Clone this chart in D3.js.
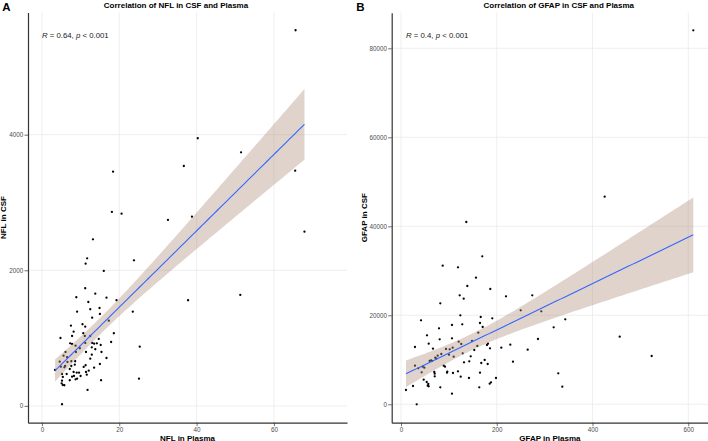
<!DOCTYPE html>
<html>
<head>
<meta charset="utf-8">
<script src="https://cdn.jsdelivr.net/npm/d3@7"></script>
<style>
  html, body { margin: 0; padding: 0; background: #fff; }
  svg { display: block; font-family: "Liberation Sans", Arial, sans-serif; }
</style>
</head>
<body>
<svg id="chart" width="708" height="441"></svg>
<script>
// ---- Panel A: NFL (plasma vs CSF) ----
const nflPlasma = [13.2,11.7,11.3,23.8,16.0,11.2,13.8,8.9,16.7,19.3,12.0,14.9,12.5,9.1,23.5,15.0,13.0,17.3,7.5,10.5,
  11.2,8.2,10.7,18.6,11.1,12.5,7.8,4.8,14.7,7.3,7.8,11.2,13.0,13.5,14.2,17.9,8.7,9.8,12.9,15.2,
  25.3,13.8,6.1,8.8,11.4,15.4,5.6,12.9,12.5,16.7,6.5,4.6,6.6,7.6,8.6,8.5,7.6,15.0,4.9,5.8,
  6.0,10.8,11.3,7.2,13.5,12.1,11.4,8.2,9.0,9.6,5.2,6.4,11.6,10.0,7.8,8.3,5.4,9.1,8.7,7.2,
  5.2,15.3,5.1,5.4,5.8,11.8,5.2,3.4,18.4,18.1,65.6,40.3,51.5,36.7,65.5,20.6,32.6,38.8,67.9,37.8,
  51.3,25.1];
const nflCSF = [2457,2177,2097,2147,1990,1735,1655,1602,1596,1558,1532,1444,1425,1389,1389,1355,1301,1257,1183,1204,
  1168,1094,1071,1071,1031,1031,1031,1001,987,923,913,928,928,917,923,942,888,850,864,898,
  873,835,795,795,795,795,740,755,696,706,717,652,647,658,658,608,588,618,578,569,
  588,574,599,544,563,519,500,500,490,490,470,470,460,441,431,441,426,401,392,378,
  372,378,333,308,304,235,24,529,3454,2860,5540,3947,3740,3538,3469,2835,2742,2791,2569,1558,
  1636,401];

// ---- Panel B: GFAP (plasma vs CSF) ----
const gfapPlasma = [136.4,169.8,87.1,119.0,156.6,138.5,186.5,122.6,131.0,219.3,274.2,82.1,250.0,293.0,123.9,166.5,190.7,41.8,106.5,128.0,
  165.0,170.6,79.4,54.3,161.4,106.5,80.8,148.3,120.5,286.1,318.9,57.9,29.2,125.9,181.7,179.6,66.8,108.0,94.0,101.7,
  159.4,185.9,209.5,228.3,264.6,153.1,128.9,84.2,76.7,100.3,110.1,145.6,71.6,62.7,59.9,64.7,73.7,174.8,142.6,131.6,
  233.9,167.7,181.1,29.2,45.3,48.7,36.1,89.2,91.9,43.2,69.5,70.4,70.4,96.1,96.7,108.6,119.0,124.7,142.0,165.0,
  198.4,328.5,47.4,53.7,57.0,55.8,57.9,82.1,106.5,163.5,188.0,185.3,25.1,10.4,32.8,610.5,425.4,343.1,456.8,523.6,
  336.9];
const gfapCSF = [40966,33258,31146,30787,28449,26584,25910,24494,23730,24270,24494,22697,21124,20899,20000,19618,19326,18876,17820,17978,
  18270,17371,17079,15506,16090,14831,14607,14225,14067,14674,17303,13618,12876,13551,13618,13326,12494,12719,12427,12360,
  13101,12584,12719,13393,12270,12202,11461,11303,10921,11146,10697,10787,10472,9888,9730,9730,10247,9955,9663,9438,
  9573,9281,9056,8674,8449,8225,8090,8674,8449,7191,7258,6876,6292,7101,7326,7034,7416,6202,5910,7101,
  5910,6966,5528,5011,4562,4180,4045,3820,2382,3820,4944,4629,4112,3213,0,84045,46652,19101,15191,10854,
  3955];

// ---- Tick labels ----
const nflXTicks = [0, 20, 40, 60];
const nflYTicks = [0, 2000, 4000];
const gfapXTicks = [0, 200, 400, 600];
const gfapYTicks = [0, 20000, 40000, 60000, 80000];

// ---- Texts ----
const panelLetters = ["A", "B"];
const panelTitles = ["Correlation of NFL in CSF and Plasma", "Correlation of GFAP in CSF and Plasma"];
const xTitles = ["NFL in Plasma", "GFAP in Plasma"];
const yTitles = ["NFL in CSF", "GFAP in CSF"];
const corrR = ["0.64", "0.4"];
const corrP = ["0.001", "0.001"];

const svg = d3.select("#chart");

function linearFit(xs, ys) {
  const n = xs.length;
  const mx = d3.mean(xs), my = d3.mean(ys);
  let sxx = 0, sxy = 0;
  for (let i = 0; i < n; i++) { sxx += (xs[i]-mx)**2; sxy += (xs[i]-mx)*(ys[i]-my); }
  const b = sxy / sxx, a = my - b*mx;
  let sse = 0;
  for (let i = 0; i < n; i++) sse += (ys[i] - a - b*xs[i])**2;
  const s = Math.sqrt(sse / (n-2));
  const t = 1.984;
  const [x0, x1] = d3.extent(xs);
  const pts = d3.range(0, 81).map(k => {
    const x = x0 + (x1-x0)*k/80;
    const yhat = a + b*x;
    const se = s * Math.sqrt(1/n + (x-mx)**2/sxx);
    return {x, y: yhat, lo: yhat - t*se, hi: yhat + t*se};
  });
  return pts;
}

function drawPanel(cfg) {
  const g = svg.append("g");
  const x = d3.scaleLinear().domain(cfg.xDomain).range([cfg.left, cfg.right]);
  const y = d3.scaleLinear().domain(cfg.yDomain).range([cfg.bottom, cfg.top]);

  // grid
  g.append("g").selectAll("line.vx").data(cfg.xTicks).join("line")
    .attr("x1", d => x(d)).attr("x2", d => x(d))
    .attr("y1", cfg.top).attr("y2", cfg.bottom)
    .attr("stroke", "#ebebeb").attr("stroke-width", 0.8);
  g.append("g").selectAll("line.hy").data(cfg.yTicks).join("line")
    .attr("x1", cfg.left).attr("x2", cfg.right)
    .attr("y1", d => y(d)).attr("y2", d => y(d))
    .attr("stroke", "#ebebeb").attr("stroke-width", 0.8);

  // points
  g.append("g").selectAll("circle").data(cfg.xs.map((v, i) => [v, cfg.ys[i]])).join("circle")
    .attr("cx", d => x(d[0])).attr("cy", d => y(d[1])).attr("r", 1.15).attr("fill", "#000");

  // regression with CI
  const fit = linearFit(cfg.xs, cfg.ys);
  g.append("path").datum(fit)
    .attr("d", d3.area().x(d => x(d.x)).y0(d => y(d.lo)).y1(d => y(d.hi)))
    .attr("fill", "rgb(178,146,128)").attr("fill-opacity", 0.4);
  g.append("path").datum(fit)
    .attr("d", d3.line().x(d => x(d.x)).y(d => y(d.y)))
    .attr("fill", "none").attr("stroke", "#3366FF").attr("stroke-width", 1.1);

  // axes
  const ax = g.append("g").attr("transform", `translate(0,${cfg.bottom})`)
    .call(d3.axisBottom(x).tickValues(cfg.xTicks).tickSize(3.5).tickSizeOuter(0).tickPadding(1.2).tickFormat(d3.format("d")));
  const ay = g.append("g").attr("transform", `translate(${cfg.left},0)`)
    .call(d3.axisLeft(y).tickValues(cfg.yTicks).tickSize(3.5).tickSizeOuter(0).tickPadding(1.2).tickFormat(d3.format("d")));
  [ax, ay].forEach(a => {
    a.select(".domain").attr("stroke", "#333").attr("stroke-width", 1.2);
    a.selectAll(".tick line").attr("stroke", "#333").attr("stroke-width", 0.7);
    a.selectAll(".tick text").attr("fill", "#4d4d4d").attr("font-size", "6.3px")
      .attr("font-family", "Liberation Sans, Arial, sans-serif");
  });

  // texts
  g.append("text").attr("x", cfg.letterX).attr("y", 11.2).text(cfg.letter)
    .attr("font-weight", "bold").attr("font-size", "11.5px").attr("fill", "#000");
  g.append("text").attr("x", cfg.titleX).attr("y", 8.4).attr("text-anchor", "middle").text(cfg.title)
    .attr("font-weight", "bold").attr("font-size", "8px").attr("fill", "#000");
  g.append("text").attr("x", (cfg.left + cfg.right)/2).attr("y", 440.5).attr("text-anchor", "middle").text(cfg.xTitle)
    .attr("font-weight", "bold").attr("font-size", "8px").attr("fill", "#000");
  g.append("text").attr("transform", `translate(${cfg.yTitleX},${(cfg.top+cfg.bottom)/2}) rotate(-90)`)
    .attr("text-anchor", "middle").text(cfg.yTitle)
    .attr("font-weight", "bold").attr("font-size", "8px").attr("fill", "#000");
  const lab = g.append("text").attr("x", x(cfg.labelXData)).attr("y", 38.4)
    .attr("font-size", "7.8px").attr("fill", "#222");
  lab.append("tspan").attr("font-style", "italic").text("R");
  lab.append("tspan").text(` = ${cfg.r}, `);
  lab.append("tspan").attr("font-style", "italic").text("p");
  lab.append("tspan").text(` < ${cfg.p}`);
}

drawPanel({
  xs: nflPlasma, ys: nflCSF, xDomain: [-3.6, 78.9], yDomain: [-248, 5802],
  left: 28, right: 347, top: 12.5, bottom: 422.7,
  xTicks: nflXTicks, yTicks: nflYTicks,
  letter: panelLetters[0], letterX: 2.3, title: panelTitles[0], titleX: 176,
  xTitle: xTitles[0], yTitle: yTitles[0], yTitleX: 6.3,
  r: corrR[0], p: corrP[0], labelXData: 0
});
drawPanel({
  xs: gfapPlasma, ys: gfapCSF, xDomain: [-19.4, 641.2], yDomain: [-4135, 88000],
  left: 391.7, right: 708, top: 12.7, bottom: 422.7,
  xTicks: gfapXTicks, yTicks: gfapYTicks,
  letter: panelLetters[1], letterX: 356.3, title: panelTitles[1], titleX: 558.8,
  xTitle: xTitles[1], yTitle: yTitles[1], yTitleX: 366.5,
  r: corrR[1], p: corrP[1], labelXData: 10.4
});
</script>
</body>
</html>
